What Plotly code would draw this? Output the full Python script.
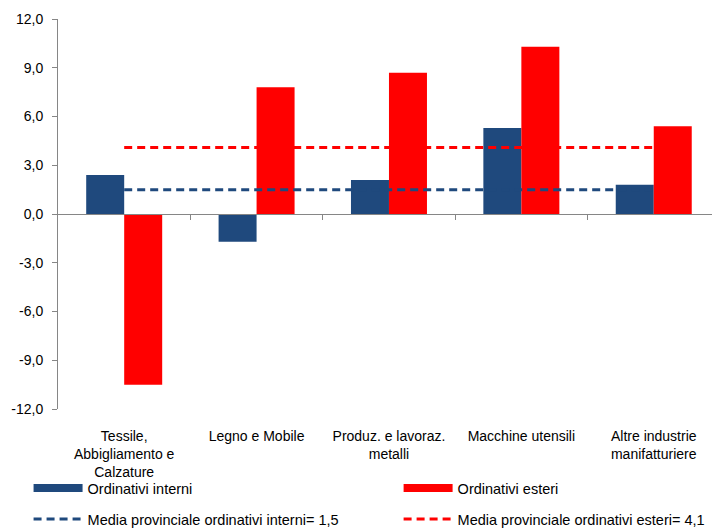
import plotly.graph_objects as go

# Settori manifatturieri e variazioni degli ordinativi (%)
categorie = [
    "Tessile,<br>Abbigliamento e<br>Calzature",
    "Legno e Mobile",
    "Produz. e lavoraz.<br>metalli",
    "Macchine utensili",
    "Altre industrie<br>manifatturiere",
]
ordinativi_interni = [2.4, -1.7, 2.1, 5.3, 1.8]
ordinativi_esteri = [-10.5, 7.8, 8.7, 10.3, 5.4]
media_interni = 1.5
media_esteri = 4.1
tick_y = [-12, -9, -6, -3, 0, 3, 6, 9, 12]

BLU = "#1F497D"
ROSSO = "#FF0000"
FONT = "Liberation Sans, Arial, sans-serif"

x = list(range(len(categorie)))
# etichette asse y con virgola decimale e trattino semplice
testo_y = [f"{v:.1f}".replace(".", ",") for v in tick_y]

fig = go.Figure()

fig.add_trace(go.Bar(x=x, y=ordinativi_interni, marker=dict(color=BLU, line=dict(width=0)),
                     showlegend=False, name="Ordinativi interni"))
fig.add_trace(go.Bar(x=x, y=ordinativi_esteri, marker=dict(color=ROSSO, line=dict(width=0)),
                     showlegend=False, name="Ordinativi esteri"))

# linee medie provinciali
fig.add_trace(go.Scatter(x=[x[0], x[-1]], y=[media_interni] * 2, mode="lines",
                         line=dict(color=BLU, width=3, dash="8px,5px"),
                         name="Media provinciale ordinativi interni= 1,5", legend="legend3"))
fig.add_trace(go.Scatter(x=[x[0], x[-1]], y=[media_esteri] * 2, mode="lines",
                         line=dict(color=ROSSO, width=3, dash="8px,5px"),
                         name="Media provinciale ordinativi esteri= 4,1", legend="legend4"))

# voci di legenda per le barre
fig.add_trace(go.Scatter(x=[None], y=[None], mode="lines", line=dict(color=BLU, width=8),
                         name="Ordinativi interni", legend="legend"))
fig.add_trace(go.Scatter(x=[None], y=[None], mode="lines", line=dict(color=ROSSO, width=8),
                         name="Ordinativi esteri", legend="legend2"))

# asse secondario per la linea dello zero
fig.add_trace(go.Scatter(x=[None], y=[None], xaxis="x2", showlegend=False))

legend_common = dict(
    orientation="h", xanchor="left", yanchor="middle", itemwidth=49,
    font=dict(family=FONT, size=14.5, color="#000000"),
    bgcolor="rgba(0,0,0,0)", borderwidth=0,
)
COL_SX, COL_DX = -0.045, 0.5208
RIGA_1, RIGA_2 = -0.2026, -0.282

fig.update_layout(
    width=712, height=528,
    margin=dict(l=58, r=0, t=19, b=119, autoexpand=False),
    paper_bgcolor="white", plot_bgcolor="white",
    barmode="group", bargap=0.426, bargroupgap=0,
    font=dict(family=FONT, size=14, color="#000000"),
    xaxis=dict(
        range=[-0.5, 4.44], tickvals=x, ticktext=categorie,
        showline=False, showgrid=False, zeroline=False, ticks="",
        ticklabelstandoff=17,
        tickfont=dict(family=FONT, size=14, color="#000000"),
    ),
    xaxis2=dict(
        overlaying="x", matches="x", anchor="free", position=0.5,
        tickvals=[0.5, 1.5, 2.5, 3.5], showticklabels=False,
        showline=True, linecolor="#868686", linewidth=1,
        ticks="outside", ticklen=5, tickcolor="#868686",
        showgrid=False, zeroline=False,
    ),
    yaxis=dict(
        range=[-12, 12], tickvals=tick_y, ticktext=testo_y,
        showline=True, linecolor="#868686", linewidth=1,
        ticks="outside", ticklen=5, tickcolor="#868686",
        showgrid=False, zeroline=False, ticklabelstandoff=6,
        tickfont=dict(family=FONT, size=14, color="#000000"),
    ),
    legend=dict(x=COL_SX, y=RIGA_1, **legend_common),
    legend2=dict(x=COL_DX, y=RIGA_1, **legend_common),
    legend3=dict(x=COL_SX, y=RIGA_2, **legend_common),
    legend4=dict(x=COL_DX, y=RIGA_2, **legend_common),
)

fig.write_html("out.html")
